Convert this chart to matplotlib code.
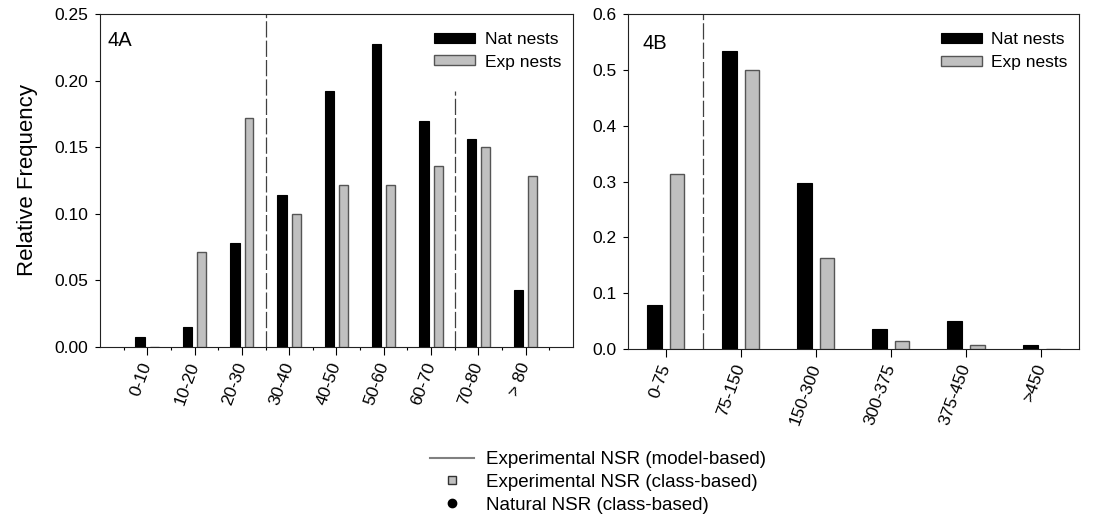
import numpy as np
import matplotlib
matplotlib.use("Agg")
import matplotlib.pyplot as plt
from matplotlib.lines import Line2D
from matplotlib.ticker import FormatStrFormatter

plt.rcParams['font.family'] = ['Liberation Sans', 'DejaVu Sans']

# panel 4A
cats_a = ["0-10", "10-20", "20-30", "30-40", "40-50", "50-60", "60-70", "70-80", "> 80"]
nat_a = [0.0075, 0.015, 0.078, 0.114, 0.192, 0.2275, 0.170, 0.156, 0.043]
exp_a = [0.0, 0.0716, 0.1717, 0.100, 0.1216, 0.1216, 0.136, 0.150, 0.1286]

# panel 4B
cats_b = ["0-75", "75-150", "150-300", "300-375", "375-450", ">450"]
nat_b = [0.078, 0.533, 0.298, 0.0357, 0.0506, 0.0071]
exp_b = [0.314, 0.500, 0.1637, 0.0137, 0.0071, 0.0]

# NSR reference lines (class positions)
nsr_a = [3.5, 7.5]
nsr_a_top = [0.25, 0.192]
nsr_b = [1.5]

fs = 12.5
black = "black"
gray = "#c0c0c0"
edge = "#555555"
dash_col = "#404040"

fig = plt.figure(figsize=(10.94, 5.18), dpi=100)
ax1 = fig.add_axes([100/1094, 171/518, 473/1094, 333/518])
ax2 = fig.add_axes([628/1094, 169/518, 451/1094, 335/518])

def draw(ax, cats, nat, exp):
    x = np.arange(1, len(cats) + 1)
    ax.bar(x - 0.15, nat, width=0.2, color=black, edgecolor=black, linewidth=0.8, label="Nat nests", zorder=3)
    ax.bar(x + 0.15, exp, width=0.19, color=gray, edgecolor=edge, linewidth=1.0, label="Exp nests", zorder=3)
    ax.set_xticks(x)
    ax.set_xticklabels(cats, rotation=70, ha='right', va='center', rotation_mode='anchor', fontsize=fs)
    ax.tick_params(axis='x', which='major', direction='out', length=5.5, width=0.8, pad=6)
    ax.tick_params(axis='y', direction='out', length=3.5, width=0.8, labelsize=fs, pad=5)
    for s in ax.spines.values():
        s.set_linewidth(0.8)
        s.set_color('#222222')
    ax.legend(loc='upper right', bbox_to_anchor=(0.975, 0.945), frameon=False, fontsize=fs,
              handlelength=2.35, handleheight=0.5, handletextpad=0.55, labelspacing=0.42,
              borderpad=0, borderaxespad=0)

draw(ax1, cats_a, nat_a, exp_a)
ax1.set_xlim(0, 10)
ax1.set_ylim(0, 0.25)
ax1.set_yticks(np.arange(0, 0.26, 0.05))
ax1.yaxis.set_major_formatter(FormatStrFormatter('%.2f'))
ax1.set_xticks(np.arange(0.5, 10, 1), minor=True)
ax1.tick_params(axis='x', which='minor', direction='out', length=2.5, width=0.8)
for xv, top in zip(nsr_a, nsr_a_top):
    ax1.plot([xv, xv], [0, top], color=dash_col, lw=0.9, dashes=(13, 2.5), zorder=2)
ax1.set_ylabel("Relative Frequency", fontsize=16, labelpad=12)
ax1.text(0.016, 0.92, "4A", transform=ax1.transAxes, fontsize=14.5, va='center')

draw(ax2, cats_b, nat_b, exp_b)
ax2.set_xlim(0.5, 6.5)
ax2.set_ylim(0, 0.6)
ax2.set_yticks(np.arange(0, 0.61, 0.1))
ax2.yaxis.set_major_formatter(FormatStrFormatter('%.1f'))
for xv in nsr_b:
    ax2.plot([xv, xv], [0, 0.6], color=dash_col, lw=0.9, dashes=(13, 2.5), zorder=2)
ax2.text(0.033, 0.913, "4B", transform=ax2.transAxes, fontsize=14.5, va='center')

handles = [
    Line2D([0], [0], color="#808080", lw=1.5),
    Line2D([0], [0], ls='none', marker='s', markersize=6, markerfacecolor=gray, markeredgecolor='#333333', markeredgewidth=1),
    Line2D([0], [0], ls='none', marker='o', markersize=6, color='black'),
]
labels = ["Experimental NSR (model-based)", "Experimental NSR (class-based)", "Natural NSR (class-based)"]
fig.legend(handles, labels, loc='upper left', bbox_to_anchor=(430/1094, 1 - 451/518), frameon=False,
           fontsize=13.5, handlelength=2.35, handletextpad=0.62, labelspacing=0.3, borderpad=0, borderaxespad=0)

fig.savefig("out.png", dpi=100)
